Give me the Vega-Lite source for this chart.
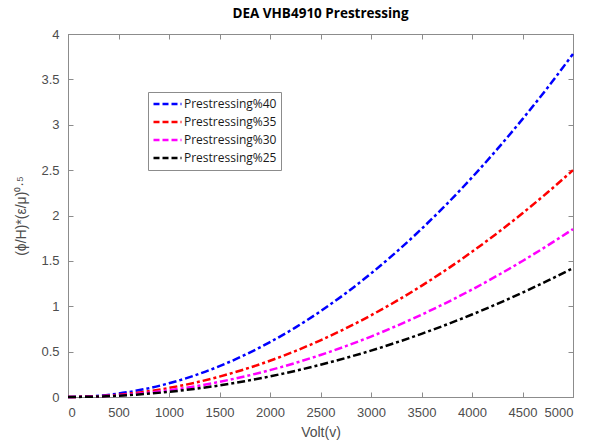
{
  "$schema": "https://vega.github.io/schema/vega-lite/v6.json",
  "autosize": "none",
  "width": 505,
  "height": 363,
  "padding": {"left": 68, "top": 34, "right": 19, "bottom": 47},
  "background": "white",
  "title": {"text": "DEA VHB4910 Prestressing", "font": "Open Sans", "fontSize": 13.5, "fontWeight": "bold", "color": "#000000", "offset": 8, "anchor": "middle"},
  "config": {
    "view": {"stroke": "#8c8c8c", "strokeWidth": 1},
    "axis": {"grid": false, "domainColor": "#8c8c8c", "tickColor": "#8c8c8c", "labelFont": "Liberation Sans", "labelFontSize": 13, "labelColor": "#4d4d4d", "titleFont": "Liberation Sans", "titleFontSize": 14, "titleColor": "#4d4d4d", "titleFontWeight": "normal", "tickSize": -5, "labelPadding": 14, "labelOverlap": false}
  },
  "data": {"values": [
    {"v":0,"y":0,"s":"Prestressing%40"},{"v":250,"y":0.009,"s":"Prestressing%40"},{"v":500,"y":0.038,"s":"Prestressing%40"},{"v":750,"y":0.085,"s":"Prestressing%40"},{"v":1000,"y":0.151,"s":"Prestressing%40"},{"v":1250,"y":0.236,"s":"Prestressing%40"},{"v":1500,"y":0.34,"s":"Prestressing%40"},{"v":1750,"y":0.463,"s":"Prestressing%40"},{"v":2000,"y":0.605,"s":"Prestressing%40"},{"v":2250,"y":0.765,"s":"Prestressing%40"},{"v":2500,"y":0.945,"s":"Prestressing%40"},{"v":2750,"y":1.143,"s":"Prestressing%40"},{"v":3000,"y":1.361,"s":"Prestressing%40"},{"v":3250,"y":1.597,"s":"Prestressing%40"},{"v":3500,"y":1.852,"s":"Prestressing%40"},{"v":3750,"y":2.126,"s":"Prestressing%40"},{"v":4000,"y":2.419,"s":"Prestressing%40"},{"v":4250,"y":2.731,"s":"Prestressing%40"},{"v":4500,"y":3.062,"s":"Prestressing%40"},{"v":4750,"y":3.411,"s":"Prestressing%40"},{"v":5000,"y":3.78,"s":"Prestressing%40"},
    {"v":0,"y":0,"s":"Prestressing%35"},{"v":250,"y":0.006,"s":"Prestressing%35"},{"v":500,"y":0.025,"s":"Prestressing%35"},{"v":750,"y":0.056,"s":"Prestressing%35"},{"v":1000,"y":0.1,"s":"Prestressing%35"},{"v":1250,"y":0.156,"s":"Prestressing%35"},{"v":1500,"y":0.225,"s":"Prestressing%35"},{"v":1750,"y":0.306,"s":"Prestressing%35"},{"v":2000,"y":0.4,"s":"Prestressing%35"},{"v":2250,"y":0.506,"s":"Prestressing%35"},{"v":2500,"y":0.625,"s":"Prestressing%35"},{"v":2750,"y":0.756,"s":"Prestressing%35"},{"v":3000,"y":0.9,"s":"Prestressing%35"},{"v":3250,"y":1.056,"s":"Prestressing%35"},{"v":3500,"y":1.225,"s":"Prestressing%35"},{"v":3750,"y":1.406,"s":"Prestressing%35"},{"v":4000,"y":1.6,"s":"Prestressing%35"},{"v":4250,"y":1.806,"s":"Prestressing%35"},{"v":4500,"y":2.025,"s":"Prestressing%35"},{"v":4750,"y":2.256,"s":"Prestressing%35"},{"v":5000,"y":2.5,"s":"Prestressing%35"},
    {"v":0,"y":0,"s":"Prestressing%30"},{"v":250,"y":0.005,"s":"Prestressing%30"},{"v":500,"y":0.019,"s":"Prestressing%30"},{"v":750,"y":0.042,"s":"Prestressing%30"},{"v":1000,"y":0.074,"s":"Prestressing%30"},{"v":1250,"y":0.116,"s":"Prestressing%30"},{"v":1500,"y":0.167,"s":"Prestressing%30"},{"v":1750,"y":0.227,"s":"Prestressing%30"},{"v":2000,"y":0.296,"s":"Prestressing%30"},{"v":2250,"y":0.375,"s":"Prestressing%30"},{"v":2500,"y":0.463,"s":"Prestressing%30"},{"v":2750,"y":0.56,"s":"Prestressing%30"},{"v":3000,"y":0.666,"s":"Prestressing%30"},{"v":3250,"y":0.782,"s":"Prestressing%30"},{"v":3500,"y":0.907,"s":"Prestressing%30"},{"v":3750,"y":1.041,"s":"Prestressing%30"},{"v":4000,"y":1.184,"s":"Prestressing%30"},{"v":4250,"y":1.337,"s":"Prestressing%30"},{"v":4500,"y":1.499,"s":"Prestressing%30"},{"v":4750,"y":1.67,"s":"Prestressing%30"},{"v":5000,"y":1.85,"s":"Prestressing%30"},
    {"v":0,"y":0,"s":"Prestressing%25"},{"v":250,"y":0.004,"s":"Prestressing%25"},{"v":500,"y":0.014,"s":"Prestressing%25"},{"v":750,"y":0.032,"s":"Prestressing%25"},{"v":1000,"y":0.057,"s":"Prestressing%25"},{"v":1250,"y":0.089,"s":"Prestressing%25"},{"v":1500,"y":0.128,"s":"Prestressing%25"},{"v":1750,"y":0.174,"s":"Prestressing%25"},{"v":2000,"y":0.227,"s":"Prestressing%25"},{"v":2250,"y":0.288,"s":"Prestressing%25"},{"v":2500,"y":0.355,"s":"Prestressing%25"},{"v":2750,"y":0.43,"s":"Prestressing%25"},{"v":3000,"y":0.511,"s":"Prestressing%25"},{"v":3250,"y":0.6,"s":"Prestressing%25"},{"v":3500,"y":0.696,"s":"Prestressing%25"},{"v":3750,"y":0.799,"s":"Prestressing%25"},{"v":4000,"y":0.909,"s":"Prestressing%25"},{"v":4250,"y":1.026,"s":"Prestressing%25"},{"v":4500,"y":1.15,"s":"Prestressing%25"},{"v":4750,"y":1.282,"s":"Prestressing%25"},{"v":5000,"y":1.42,"s":"Prestressing%25"}
  ]},
  "layer": [
    {
      "mark": {"type": "line", "strokeWidth": 2.5, "strokeDash": [8, 3, 3, 3], "interpolate": "monotone"},
      "encoding": {
        "x": {"field": "v", "type": "quantitative", "scale": {"domain": [0, 5000], "nice": false}, "axis": {"orient": "bottom", "format": "d", "values": [0,500,1000,1500,2000,2500,3000,3500,4000,4500,5000], "title": "Volt(v)", "titlePadding": 6}},
        "y": {"field": "y", "type": "quantitative", "scale": {"domain": [0, 4], "nice": false}, "axis": {"orient": "left", "format": "~g", "values": [0,0.5,1,1.5,2,2.5,3,3.5,4], "title": "(ϕ/H)*(ε/μ)⁰·⁵", "titlePadding": 12}},
        "color": {"field": "s", "type": "nominal", "sort": ["Prestressing%40","Prestressing%35","Prestressing%30","Prestressing%25"],
          "scale": {"domain": ["Prestressing%40","Prestressing%35","Prestressing%30","Prestressing%25"], "range": ["#0000ff","#ff0000","#ff00ff","#000000"]},
          "legend": {"title": null, "orient": "none", "legendX": 80, "legendY": 58, "direction": "vertical", "fillColor": "white", "strokeColor": "#8c8c8c", "padding": 4, "symbolType": "stroke", "symbolSize": 784, "symbolStrokeWidth": 2.5, "symbolDash": [6, 3], "clipHeight": 16, "labelFont": "Open Sans", "labelFontSize": 12, "labelColor": "#1a1a1a", "labelOffset": 1, "rowPadding": 2}}
      }
    },
    {
      "mark": {"type": "line", "strokeOpacity": 0},
      "encoding": {
        "x": {"field": "v", "type": "quantitative", "axis": {"orient": "top", "values": [0,500,1000,1500,2000,2500,3000,3500,4000,4500,5000], "labels": false, "title": null}},
        "y": {"field": "y", "type": "quantitative", "axis": {"orient": "right", "values": [0,0.5,1,1.5,2,2.5,3,3.5,4], "labels": false, "title": null}}
      }
    }
  ],
  "resolve": {"axis": {"x": "independent", "y": "independent"}}
}
